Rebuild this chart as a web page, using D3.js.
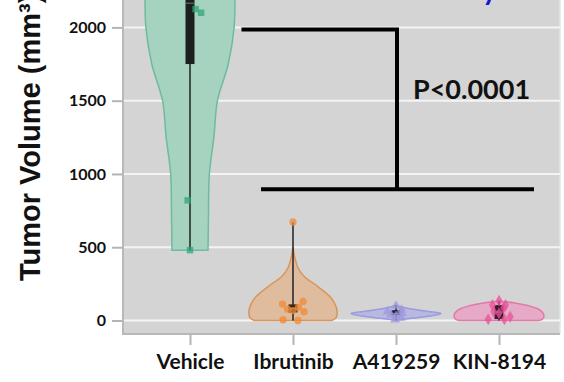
<!DOCTYPE html>
<html>
<head>
<meta charset="utf-8">
<script src="https://cdn.jsdelivr.net/npm/d3@7"></script>
<style>
  html, body { margin: 0; padding: 0; background: #fff; }
  svg { display: block; }
</style>
</head>
<body>
<svg id="chart" width="564" height="382"></svg>
<script>
const categories = ["Vehicle", "Ibrutinib", "A419259", "KIN-8194"]
const yTicks = [0, 500, 1000, 1500, 2000]

// individual tumours (mm3)
const vehiclePts = [2300, 2100, 2450, 2125, 820, 480]
const ibrutinibPts = [672, 130, 112, 90, 78, 68, 60, 5, 0]
const a419259Pts = [100, 72, 60, 48, 40, 30, 18, 5]
const kin8194Pts = [135, 105, 105, 85, 60, 49, 26, 8, 8]

// box stats: [min, q1, median, q3, max]
const vehicleBox = [480, 1750, 2165, 2600, 2800]
const ibrutinibBox = [0, 55, 80, 110, 672]
const a419259Box = [0, 37, 48, 70, 105]
const kin8194Box = [0, 10, 58, 105, 135]

// violin outline: [value, relative half width]
const vehicleViolin = [[480, 0.40], [700, 0.41], [1000, 0.43], [1250, 0.53], [1500, 0.61], [1750, 0.85], [2000, 0.98], [2250, 1.0], [2500, 1.0]]
const ibrutinibViolin = [[0, 0.86], [20, 0.96], [60, 0.98], [100, 0.95], [160, 0.83], [230, 0.56], [300, 0.25], [360, 0.11], [430, 0.04], [500, 0.0]]
const a419259Violin = [[2, 0.0], [15, 0.35], [30, 0.75], [48, 1.0], [62, 0.72], [78, 0.35], [92, 0.13], [105, 0.0]]
const kin8194Violin = [[0, 0.80], [8, 0.96], [30, 1.0], [55, 0.97], [80, 0.86], [100, 0.66], [118, 0.38], [132, 0.0]]

const pValue = "P<0.0001"
const bracketTop = 1985
const bracketBottom = 895

const groups = [
  {name: categories[0], pts: vehiclePts, box: vehicleBox, violin: vehicleViolin, fill: "#a6d2c0", stroke: "#6cbc9e", dot: "#2fa57a", boxFill: "#1b1f1d", shape: d3.symbolSquare},
  {name: categories[1], pts: ibrutinibPts, box: ibrutinibBox, violin: ibrutinibViolin, fill: "#dfbc9e", stroke: "#d9955a", dot: "#f08a38", boxFill: "#3b2616", shape: d3.symbolCircle},
  {name: categories[2], pts: a419259Pts, box: a419259Box, violin: a419259Violin, fill: "#b8b8e0", stroke: "#9a9ae0", dot: "#9c98dc", boxFill: "#1a1a2a", shape: d3.symbolTriangle},
  {name: categories[3], pts: kin8194Pts, box: kin8194Box, violin: kin8194Violin, fill: "#e6aac6", stroke: "#e07aa6", dot: "#ea4f98", boxFill: "#3a1a2c", shape: d3.symbolDiamond}
]

const PLOT = {left: 123, right: 560, top: -10, bottom: 334}
const spread = [0, 1, -1, 0.5, -0.5]

const svg = d3.select("#chart")

const x = d3.scalePoint().domain(categories).range([190, 499])
const y = d3.scaleLinear().domain([0, 2000]).range([320.5, 27.4])
const w = d3.scaleLinear().domain([0, 1]).range([0, 45])

// relative violin width at a value (linear between outline points)
function widthAt(violin, v) {
  if (v <= violin[0][0]) return violin[0][1]
  for (let i = 1; i < violin.length; i++) {
    if (v <= violin[i][0]) {
      const a = violin[i - 1], b = violin[i]
      return a[1] + (b[1] - a[1]) * (v - a[0]) / (b[0] - a[0])
    }
  }
  return violin[violin.length - 1][1]
}

svg.append("defs").append("clipPath").attr("id", "plotclip")
  .append("rect")
  .attr("x", PLOT.left).attr("y", PLOT.top)
  .attr("width", PLOT.right - PLOT.left).attr("height", PLOT.bottom - PLOT.top)

// plot background
svg.append("rect")
  .attr("x", PLOT.left).attr("y", PLOT.top)
  .attr("width", PLOT.right - PLOT.left).attr("height", PLOT.bottom - PLOT.top)
  .attr("fill", "#d4d4d4")

// title, cut off by the top edge
svg.append("text")
  .attr("x", 497).attr("y", -0.5)
  .attr("text-anchor", "end")
  .attr("font-family", "Lato, sans-serif")
  .attr("font-weight", "bold")
  .attr("font-size", 28)
  .attr("fill", "#1414d2")
  .text("Study")

svg.append("line")
  .attr("x1", PLOT.right).attr("x2", PLOT.right)
  .attr("y1", PLOT.top).attr("y2", PLOT.bottom)
  .attr("stroke", "#e4e4e4").attr("stroke-width", 1.5)

// grid
svg.append("g").selectAll("line").data(yTicks).join("line")
  .attr("x1", PLOT.left).attr("x2", PLOT.right)
  .attr("y1", d => y(d)).attr("y2", d => y(d))
  .attr("stroke", "#f4f4f4").attr("stroke-width", 2)

// border left + bottom
svg.append("path")
  .attr("d", `M${PLOT.left},${PLOT.top}V${PLOT.bottom}H${PLOT.right}`)
  .attr("fill", "none").attr("stroke", "#b8b8b8").attr("stroke-width", 2)

// y axis
const yAxis = d3.axisLeft(y).tickValues(yTicks).tickFormat(d3.format("d")).tickSize(10).tickPadding(6)
const yg = svg.append("g")
  .attr("transform", `translate(${PLOT.left - 1},0)`)
  .call(yAxis)
yg.select(".domain").remove()
yg.selectAll(".tick line").attr("stroke", "#b4b4b4").attr("stroke-width", 2)
yg.selectAll(".tick text")
  .attr("font-family", "Lato, sans-serif").attr("font-weight", "bold")
  .attr("font-size", 16).attr("fill", "#111")

// x axis
const xAxis = d3.axisBottom(x).tickSize(10).tickPadding(9)
const xg = svg.append("g")
  .attr("transform", `translate(0,${PLOT.bottom + 1})`)
  .call(xAxis)
xg.select(".domain").remove()
xg.selectAll(".tick line").attr("stroke", "#b4b4b4").attr("stroke-width", 2)
xg.selectAll(".tick text")
  .attr("font-family", "Lato, sans-serif").attr("font-weight", "bold")
  .attr("font-size", 21).attr("fill", "#111")

// y title
svg.append("text")
  .attr("transform", "translate(40,281) rotate(-90)")
  .attr("font-family", "Liberation Sans, Arial, sans-serif")
  .attr("font-weight", "bold")
  .attr("font-size", 29)
  .attr("fill", "#111")
  .text("Tumor Volume (mm³)")

const plot = svg.append("g").attr("clip-path", "url(#plotclip)")

const violinArea = cx => d3.area()
  .y(d => y(d[0]))
  .x0(d => cx - w(d[1]))
  .x1(d => cx + w(d[1]))
  .curve(d3.curveCatmullRom)

groups.forEach(g => {
  const cx = x(g.name)
  const gg = plot.append("g")

  gg.append("path")
    .attr("d", violinArea(cx)(g.violin))
    .attr("fill", g.fill).attr("stroke", g.stroke).attr("stroke-width", 1.5)

  // whisker
  gg.append("line")
    .attr("x1", cx).attr("x2", cx)
    .attr("y1", y(g.box[0])).attr("y2", y(g.box[4]))
    .attr("stroke", "#222").attr("stroke-width", 1.5)

  // box
  gg.append("rect")
    .attr("x", cx - 4.5).attr("width", 9)
    .attr("y", y(g.box[3])).attr("height", y(g.box[1]) - y(g.box[3]))
    .attr("fill", g.boxFill)

  gg.append("line")
    .attr("x1", cx - 4.5).attr("x2", cx + 4.5)
    .attr("y1", y(g.box[2])).attr("y2", y(g.box[2]))
    .attr("stroke", "#777").attr("stroke-width", 1)

  // points, spread inside the violin
  gg.selectAll("path.pt").data(g.pts).join("path")
    .attr("class", "pt")
    .attr("d", d3.symbol().type(g.shape).size(42))
    .attr("transform", (d, i) => {
      const dx = spread[i % spread.length] * w(widthAt(g.violin, d)) * 0.25
      return `translate(${cx + dx},${y(d)})`
    })
    .attr("fill", g.dot).attr("fill-opacity", 0.75)
})

// significance bracket
const bracket = svg.append("g").attr("stroke", "#000").attr("stroke-width", 4).attr("fill", "none")
const mid01 = (x(categories[0]) + x(categories[1])) / 2
bracket.append("path")
  .attr("d", `M${mid01},${y(bracketTop)}H${x(categories[2]) + 1}V${y(bracketBottom)}`)
bracket.append("line")
  .attr("x1", x(categories[1]) - 32).attr("x2", x(categories[3]) + 35)
  .attr("y1", y(bracketBottom)).attr("y2", y(bracketBottom))

svg.append("text")
  .attr("x", 413).attr("y", 99)
  .attr("font-family", "Lato, sans-serif")
  .attr("font-weight", "bold")
  .attr("font-size", 27)
  .attr("fill", "#111")
  .text(pValue)
</script>
</body>
</html>
